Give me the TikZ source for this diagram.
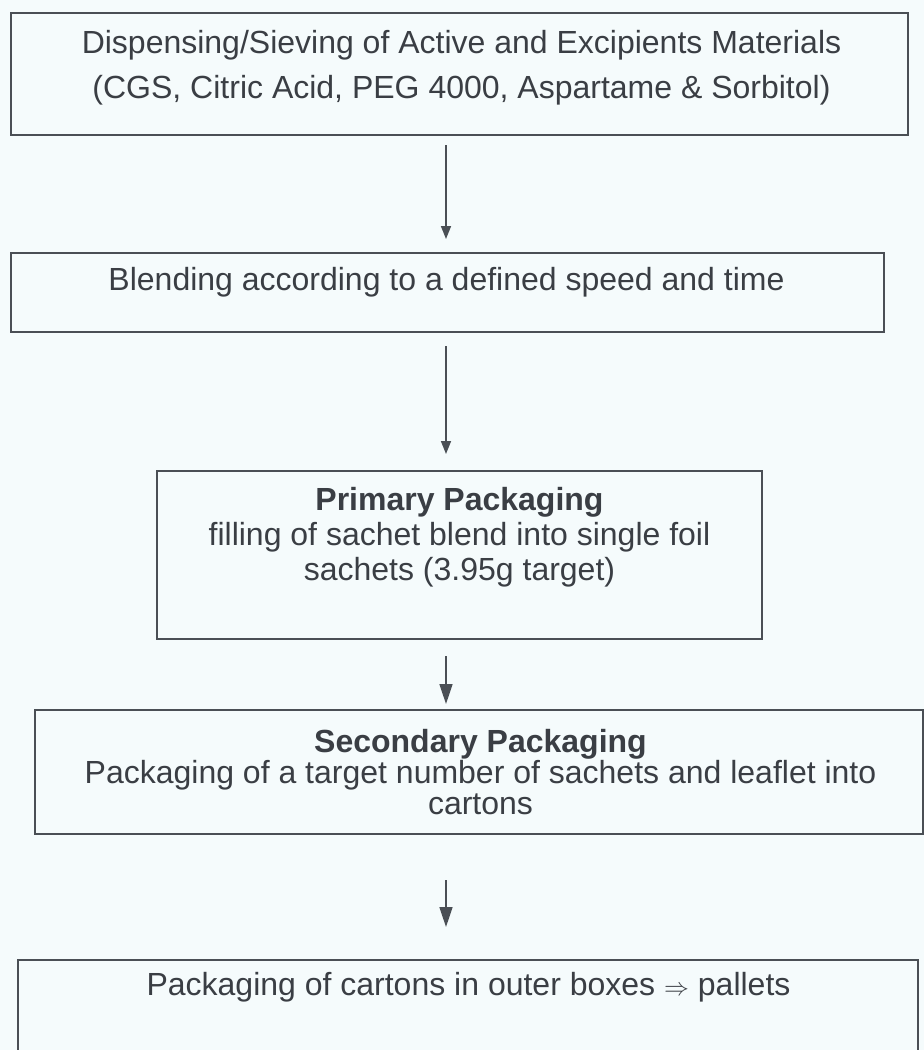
\documentclass[tikz,border=0pt]{standalone}
\usepackage{fontspec}
\setmainfont{Liberation Sans}
\usetikzlibrary{arrows.meta, positioning, calc}
\definecolor{ink}{RGB}{74,79,85}
\definecolor{inktext}{RGB}{58,62,68}
\definecolor{paper}{RGB}{245,251,252}
\tikzset{
  stage/.style={rectangle, draw=ink, line width=2pt, inner sep=0pt},
  caption/.style={align=center, text=inktext, inner sep=0pt,
                  font=\fontsize{32}{31}\selectfont},
  arrow/.style={-{Triangle[length=20pt, width=13pt]}, line width=1.6pt, color=ink},
  thinarrow/.style={-{Triangle[length=13pt, width=10pt]}, line width=1.6pt, color=ink},
}

\begin{document}
\begin{tikzpicture}[x=1pt, y=-1pt]
        \fill[paper] (0,0) rectangle (924,1050);
        \useasboundingbox (0,0) rectangle (924,1050);
        \coordinate (axis) at (446,0);
        % boxes
        \node[stage, minimum width=897pt, minimum height=122pt] (disp)  at (459.5,74)  {};
        \node[stage, minimum width=873pt, minimum height=79pt]  (blend) at (447.5,292.5) {};
        \node[stage, minimum width=605pt, minimum height=168pt] (prim)  at (459.5,555) {};
        \node[stage, minimum width=888pt, minimum height=124pt] (sec)   at (479,772)   {};
        \node[stage, minimum width=900pt, minimum height=98pt]  (pall)  at (468,1009)  {};
        % texts
        \node[caption, font=\fontsize{32}{45}\selectfont] (disptxt) at (461.5,67.5)
          {Dispensing/Sieving of Active and Excipients Materials\\(CGS, Citric Acid, PEG 4000, Aspartame \& Sorbitol)};
        \node[caption] (blendtxt) at (446.5,282) {Blending according to a defined speed and time};
        \node[caption, font=\fontsize{32}{35}\selectfont] (primtxt) at (459.5,537.5)
          {\textbf{Primary Packaging}\\filling of sachet blend into single foil\\sachets (3.95g target)};
        \node[caption] (sectxt) at (480.5,772.5)
          {\textbf{Secondary Packaging}\\Packaging of a target number of sachets and leaflet into\\cartons};
        \node[caption] (palltxt) at (468.5,987) {Packaging of cartons in outer boxes $\Rightarrow$ pallets};
        % connectors
        \draw[thinarrow, shorten <=9pt,  shorten >=13pt] (disp.south -| axis)  -- (blend.north -| axis);
        \draw[thinarrow, shorten <=13pt, shorten >=16pt] (blend.south -| axis) -- (prim.north -| axis);
        \draw[arrow,     shorten <=16pt, shorten >=5pt]  (prim.south -| axis)  -- (sec.north -| axis);
        \draw[arrow,     shorten <=45pt, shorten >=32pt] (sec.south -| axis)   -- (pall.north -| axis);
      \end{tikzpicture}
\end{document}
